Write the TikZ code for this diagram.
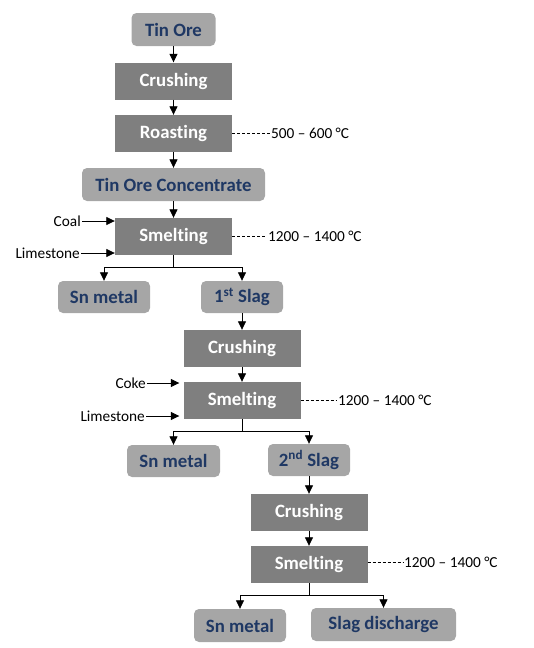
\documentclass[tikz,border=0pt]{standalone}
\usepackage{fontspec}
\setmainfont{Carlito}[Ligatures={NoCommon}]
\usetikzlibrary{arrows.meta,calc}
\definecolor{lightbox}{HTML}{A6A6A6}
\definecolor{darkbox}{HTML}{7F7F7F}
\definecolor{navy}{HTML}{1F3864}
\begin{document}
\begin{tikzpicture}[x=1pt,y=-1pt,
  matbox/.style={fill=lightbox,rounded corners=5pt,inner sep=0pt,text=navy,font=\fontsize{18.8}{20}\selectfont\bfseries,minimum height=33pt},
  procbox/.style={fill=darkbox,inner sep=0pt,text=white,font=\fontsize{18.8}{20}\selectfont\bfseries,minimum width=117pt,minimum height=37pt},
  lbl/.style={inner sep=1pt,font=\fontsize{15.3}{17}\selectfont,text=black},
  arr/.style={line width=0.8pt,-{Triangle[width=8pt,length=8.5pt]}},
  ln/.style={line width=0.8pt},
  dsh/.style={line width=0.7pt,dash pattern=on 3pt off 2pt}]
\useasboundingbox (0,0) rectangle (534,648);
% boxes
\node[matbox,minimum width=84pt] (ore) at (173.5,29.5) {Tin Ore};
\node[procbox] (cr1) at (173.5,81) {Crushing};
\node[procbox] (ro) at (173.5,133.5) {Roasting};
\node[matbox,minimum width=183pt] (conc) at (173.5,184.5) {Tin Ore Concentrate};
\node[procbox] (s1) at (173.5,236.5) {Smelting};
\node[matbox,minimum width=92pt,minimum height=32pt] (sn1) at (104,297) {Sn metal};
\node[matbox,minimum width=82pt,minimum height=32pt] (sl1) at (242,297) {1\textsuperscript{st} Slag};
\node[procbox] (cr2) at (242,348.5) {Crushing};
\node[procbox] (s2) at (242,400.5) {Smelting};
\node[matbox,minimum width=93pt,minimum height=32pt] (sn2) at (173.5,461) {Sn metal};
\node[matbox,minimum width=82pt,minimum height=32pt] (sl2) at (309,460) {2\textsuperscript{nd} Slag};
\node[procbox] (cr3) at (309,512.5) {Crushing};
\node[procbox] (s3) at (309,564.5) {Smelting};
\node[matbox,minimum width=92pt,minimum height=33pt] (sn3) at (240,625.5) {Sn metal};
\node[matbox,minimum width=145pt,minimum height=33pt] (sd) at (383.5,624.5) {Slag discharge};
% labels
\node[lbl,anchor=west] (t0) at (270,133) {500 – 600 °C};
\node[lbl,anchor=west] (t1) at (267,236) {1200 – 1400 °C};
\node[lbl,anchor=west] (t2) at (337,400) {1200 – 1400 °C};
\node[lbl,anchor=west] (t3) at (403,562) {1200 – 1400 °C};
\node[lbl,anchor=east] (coal) at (82,221) {Coal};
\node[lbl,anchor=east] (lime1) at (81,253) {Limestone};
\node[lbl,anchor=east] (coke) at (147,383) {Coke};
\node[lbl,anchor=east] (lime2) at (146,416) {Limestone};
% main flow
\draw[arr] (ore) -- (cr1);
\draw[arr] (cr1) -- (ro);
\draw[arr] (ro) -- (conc);
\draw[arr] (conc) -- (s1);
\draw[arr] (sl1) -- (cr2);
\draw[arr] (cr2) -- (s2);
\draw[arr] (sl2) -- (cr3);
\draw[arr] (cr3) -- (s3);
% inputs
\draw[arr] (coal.east) -- (coal.east -| s1.west);
\draw[arr] (lime1.east) -- (lime1.east -| s1.west);
\draw[arr,shorten >=4pt] (coke.east) -- (coke.east -| s2.west);
\draw[arr,shorten >=4pt] (lime2.east) -- (lime2.east -| s2.west);
% temperatures
\draw[dsh] (ro.east |- t0.west) -- (t0.west);
\draw[dsh] (s1.east |- t1.west) -- (t1.west);
\draw[dsh] (s2.east |- t2.west) -- (t2.west);
\draw[dsh] (s3.east |- t3.west) -- (t3.west);
% branches
\coordinate (j1) at ($(s1.south)+(0,12)$);
\coordinate (j2) at ($(s2.south)+(0,12)$);
\coordinate (j3) at ($(s3.south)+(0,12)$);
\draw[ln] (s1.south) -- (j1);
\draw[arr] (j1) -| (sn1.north);
\draw[arr] (j1) -| (sl1.north);
\draw[ln] (s2.south) -- (j2);
\draw[arr] (j2) -| (sn2.north);
\draw[arr] (j2) -| (sl2.north);
\draw[ln] (s3.south) -- (j3);
\draw[arr] (j3) -| (sn3.north);
\draw[arr] (j3) -| (sd.north);
\end{tikzpicture}
\end{document}
